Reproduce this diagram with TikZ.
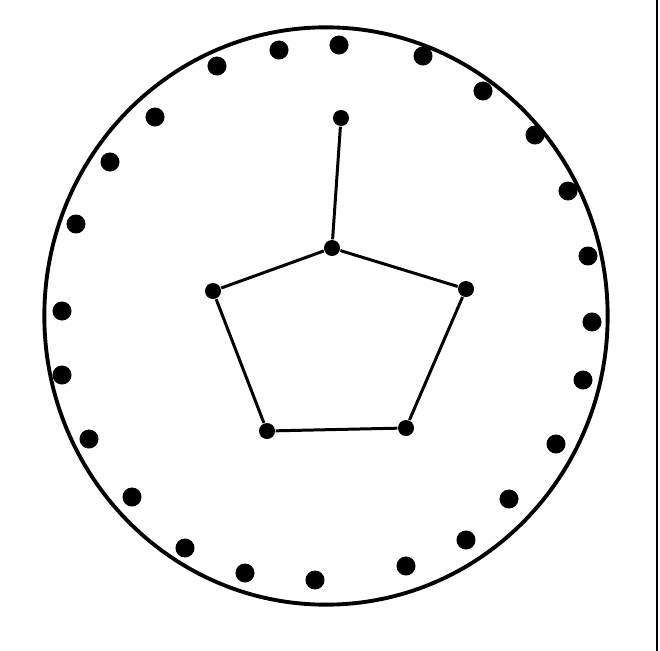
\documentclass[tikz,border=0pt]{standalone}
\usepackage{tikz}
\usetikzlibrary{shapes.geometric}
\tikzset{dot/.style = {circle, fill=black, inner sep=0pt, minimum size=0.19cm}}
\tikzset{vert/.style = {circle, fill=black, inner sep=0pt, minimum size=0.16cm}}
\tikzset{edge/.style = {line width=0.85pt}}
\tikzset{rim/.style = {line width=1.1pt}}

\begin{document}
\begin{tikzpicture}[x=0.01cm, y=-0.01cm]
\useasboundingbox (0,0) rectangle (660,651);

% outer circle and scan border
\node[draw, rim, ellipse, minimum width=5.63cm, minimum height=5.77cm, inner sep=0pt] (rim) at (326,316) {};
\coordinate (bt) at (657,0);
\coordinate (bb) at (657,651);
\draw[line width=0.8pt] (bt) -- (bb);

% dots round the rim
\node[dot] (d1) at (217,66) {};
\node[dot] (d2) at (279,50) {};
\node[dot] (d3) at (339,45) {};
\node[dot] (d4) at (423,56) {};
\node[dot] (d5) at (483,91) {};
\node[dot] (d6) at (535,135) {};
\node[dot] (d7) at (568,191) {};
\node[dot] (d8) at (588,256) {};
\node[dot] (d9) at (592,322) {};
\node[dot] (d10) at (583,380) {};
\node[dot] (d11) at (556,444) {};
\node[dot] (d12) at (509,499) {};
\node[dot] (d13) at (466,540) {};
\node[dot] (d14) at (406,566) {};
\node[dot] (d15) at (315,580) {};
\node[dot] (d16) at (245,573) {};
\node[dot] (d17) at (185,548) {};
\node[dot] (d18) at (132,497) {};
\node[dot] (d19) at (89,439) {};
\node[dot] (d20) at (62,375) {};
\node[dot] (d21) at (62,311) {};
\node[dot] (d22) at (76,224) {};
\node[dot] (d23) at (110,162) {};
\node[dot] (d24) at (155,117) {};

% inner graph
\node[vert] (v0) at (341,118) {};
\node[vert] (v1) at (332,248) {};
\node[vert] (v2) at (213,291) {};
\node[vert] (v3) at (466,289) {};
\node[vert] (v4) at (267,431) {};
\node[vert] (v5) at (406,428) {};

\draw[edge] (v0) -- (v1);
\draw[edge] (v1) -- (v2);
\draw[edge] (v1) -- (v3);
\draw[edge] (v2) -- (v4);
\draw[edge] (v3) -- (v5);
\draw[edge] (v4) -- (v5);

\end{tikzpicture}
\end{document}
